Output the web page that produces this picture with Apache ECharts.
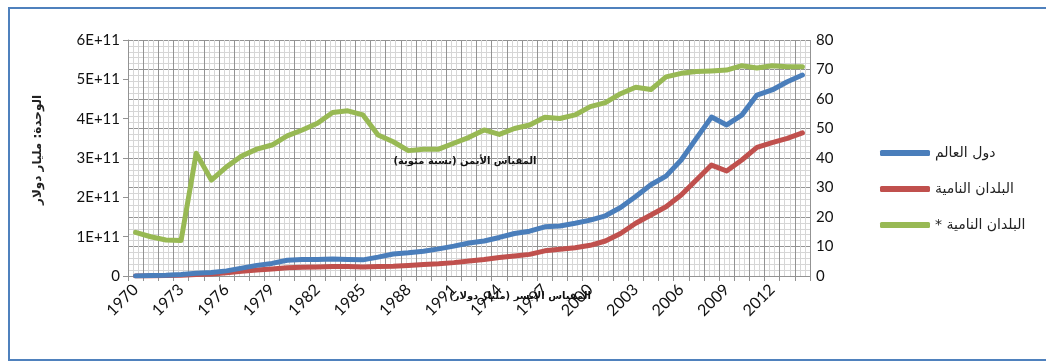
<!DOCTYPE html>
<html>
<head>
<meta charset="utf-8">
<script src="https://cdn.jsdelivr.net/npm/echarts@6/dist/echarts.min.js"></script>
<style>html,body{margin:0;padding:0;background:#fff}#c{width:1046px;height:363px}</style>
</head>
<body>
<div id="c"></div>
<script>
const years = [];
for (let y = 1970; y <= 2014; y++) years.push(String(y));

// left scale, in units of 1E+11 dollars
const worldValues = [0.0, 0.01, 0.02, 0.04, 0.07, 0.09, 0.13, 0.2, 0.27, 0.32, 0.4, 0.42, 0.42, 0.43, 0.42, 0.41, 0.48, 0.56, 0.59, 0.63, 0.69, 0.76, 0.84, 0.89, 0.98, 1.08, 1.14, 1.25, 1.27, 1.34, 1.42, 1.53, 1.74, 2.02, 2.32, 2.54, 2.95, 3.5, 4.04, 3.84, 4.09, 4.6, 4.73, 4.94, 5.11];
const developingValues = [0.0, 0.0, 0.01, 0.02, 0.04, 0.05, 0.08, 0.12, 0.15, 0.18, 0.21, 0.22, 0.23, 0.24, 0.24, 0.23, 0.24, 0.25, 0.27, 0.29, 0.31, 0.34, 0.38, 0.42, 0.47, 0.51, 0.55, 0.64, 0.68, 0.72, 0.78, 0.89, 1.08, 1.34, 1.55, 1.76, 2.06, 2.44, 2.82, 2.67, 2.95, 3.27, 3.39, 3.5, 3.64];
// right scale, percent
const developingShare = [14.8, 13.3, 12.2, 12.0, 41.6, 32.5, 37.0, 40.7, 43.0, 44.4, 47.5, 49.5, 51.8, 55.4, 56.0, 54.6, 47.8, 45.5, 42.5, 43.0, 43.0, 45.0, 47.0, 49.5, 48.0, 50.0, 51.2, 53.8, 53.4, 54.6, 57.4, 58.8, 61.8, 64.0, 63.2, 67.5, 68.7, 69.3, 69.5, 69.8, 71.3, 70.5, 71.3, 70.9, 70.9];

const seriesNames = ['دول العالم', 'البلدان النامية', 'البلدان النامية *'];
const UNIT = 1e11;

const font = 'Lato, "Open Sans", "DejaVu Sans", sans-serif';
const arFont = '"DejaVu Sans", "Noto Sans", sans-serif';
const gridCol = '#939393';
const minorCol = '#d6d6d6';

const chart = echarts.init(document.getElementById('c'), null, {renderer: 'canvas'});
chart.setOption({
  animation: false,
  backgroundColor: '#fff',
  grid: {left: 128, right: 236, top: 40, bottom: 87, containLabel: false},
  legend: {
    orient: 'vertical', left: 875, top: 140, itemGap: 20,
    itemWidth: 50, itemHeight: 6, icon: 'roundRect',
    textStyle: {fontFamily: arFont, fontSize: 14, color: '#222', lineHeight: 16,
      rich: {s: {fontFamily: arFont, fontSize: 14, color: '#222', lineHeight: 16},
             t: {fontFamily: arFont, fontSize: 14, color: '#222', lineHeight: 16}}},
    formatter: name => {
      if (name.endsWith('*')) return '{s|*}{t| ' + name.slice(0, -1).trim() + '}';
      return name;
    },
    data: seriesNames
  },
  xAxis: [{
    type: 'category', data: years, boundaryGap: true,
    axisLine: {lineStyle: {color: gridCol}},
    axisTick: {show: true, interval: 0, length: 5, lineStyle: {color: gridCol}},
    axisLabel: {interval: 2, rotate: 45, margin: 11, fontFamily: font, fontSize: 16, color: '#111'},
    splitLine: {show: true, interval: 0, lineStyle: {color: gridCol, width: 1}}
  }, {
    type: 'value', min: 0, max: 45, interval: 1, position: 'bottom',
    axisLine: {show: false}, axisTick: {show: false}, axisLabel: {show: false},
    splitLine: {show: false},
    minorTick: {show: false, splitNumber: 3},
    minorSplitLine: {show: true, lineStyle: {color: minorCol, width: 1}}
  }],
  yAxis: [{
    type: 'value', min: 0, max: 6 * UNIT, interval: UNIT, position: 'left',
    axisLine: {show: true, lineStyle: {color: gridCol}},
    axisTick: {show: true, length: 5, lineStyle: {color: gridCol}},
    axisLabel: {margin: 8, fontFamily: font, fontSize: 15, color: '#111',
      formatter: v => v === 0 ? '0' : Math.round(v / UNIT) + 'E+11'},
    splitLine: {show: false}
  }, {
    type: 'value', min: 0, max: 80, interval: 10, position: 'right',
    axisLine: {show: false}, axisTick: {show: false},
    axisLabel: {margin: 6, fontFamily: font, fontSize: 15, color: '#111'},
    splitLine: {show: true, lineStyle: {color: gridCol, width: 1}},
    minorTick: {show: false, splitNumber: 5},
    minorSplitLine: {show: true, lineStyle: {color: minorCol, width: 1}}
  }],
  series: [{
    name: seriesNames[1], type: 'line', xAxisIndex: 0, yAxisIndex: 0,
    data: developingValues.map(v => v * UNIT), showSymbol: false, symbol: 'none',
    lineStyle: {color: '#c0504d', width: 5, cap: 'round', join: 'round'}, itemStyle: {color: '#c0504d'}
  }, {
    name: seriesNames[0], type: 'line', xAxisIndex: 0, yAxisIndex: 0,
    data: worldValues.map(v => v * UNIT), showSymbol: false, symbol: 'none',
    lineStyle: {color: '#4a7ebb', width: 5, cap: 'round', join: 'round'}, itemStyle: {color: '#4a7ebb'}
  }, {
    name: seriesNames[2], type: 'line', xAxisIndex: 0, yAxisIndex: 1,
    data: developingShare, showSymbol: false, symbol: 'none',
    lineStyle: {color: '#98b954', width: 5, cap: 'round', join: 'round'}, itemStyle: {color: '#98b954'}
  }],
  graphic: [
    {type: 'rect', silent: true, z: 100, shape: {x: 9, y: 8, width: 1100, height: 352},
     style: {fill: 'none', stroke: '#4f81bd', lineWidth: 2}},
    {type: 'text', z: 100, x: 38, y: 150, rotation: Math.PI / 2,
     style: {text: 'الوحدة: مليار دولار', font: 'bold 12px ' + arFont, fill: '#222', align: 'center', verticalAlign: 'middle'}},
    {type: 'text', z: 100, x: 465, y: 161,
     style: {text: 'المقياس الأيمن (نسبة مئوية)', font: 'bold 10px ' + arFont, fill: '#111', align: 'center', verticalAlign: 'middle'}},
    {type: 'text', z: 100, x: 520, y: 296,
     style: {text: 'المقياس الأيسر (مليار دولار)', font: 'bold 10px ' + arFont, fill: '#111', align: 'center', verticalAlign: 'middle'}}
  ]
});
</script>
</body>
</html>
